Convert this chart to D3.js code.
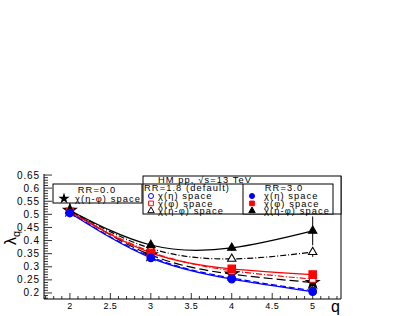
<!DOCTYPE html>
<html>
<head>
<script src="https://cdn.jsdelivr.net/npm/d3@7"></script>
<style>
  html, body { margin: 0; padding: 0; background: #fff; }
  svg { display: block; font-family: "Liberation Sans", Arial, sans-serif; }
</style>
</head>
<body>
<script>

var w = 409, h = 316;

// q values and lambda_q per setting
var qVals = [2, 3, 4, 5];
var rr30Eta    = [0.505, 0.334, 0.253, 0.205];
var rr30Phi    = [0.510, 0.353, 0.292, 0.270];
var rr30EtaPhi = [0.515, 0.383, 0.372, 0.437];
var rr30EtaPhiErr = [0.004, 0.006, 0.012, 0.055];
var rr18Eta    = [0.507, 0.338, 0.257, 0.209];
var rr18Phi    = [0.510, 0.357, 0.285, 0.253];
var rr18EtaPhi = [0.515, 0.370, 0.330, 0.356];
var rr18EtaPhiErr = [0.004, 0.005, 0.008, 0.018];
var rr00EtaPhi = [0.515, 0.345, 0.272, 0.240];
var rr00EtaPhiErr = [0.004, 0.005, 0.010, 0.020];

var xTicks = [2, 2.5, 3, 3.5, 4, 4.5, 5];
var yTicks = [0.2, 0.25, 0.3, 0.35, 0.4, 0.45, 0.5, 0.55, 0.6, 0.65];

var svg = d3.select("body").append("svg").attr("width", w).attr("height", h);

var x = d3.scaleLinear().domain([1.68, 5.35]).range([44, 341]);
var y = d3.scaleLinear().domain([0.177, 0.654]).range([299, 174]);

// frame: left, bottom, right
svg.append("path")
  .attr("d", "M44,174V299H341V176")
  .attr("fill", "none").attr("stroke", "#000").attr("stroke-width", 1);

// x axis ticks (inside)
var xMinor = d3.range(17, 54).map(function(i){ return i / 10; });
svg.append("g").selectAll("line").data(xMinor).enter().append("line")
  .attr("x1", function(d){ return x(d); }).attr("x2", function(d){ return x(d); })
  .attr("y1", 299)
  .attr("y2", function(d){ return Math.abs(d * 2 - Math.round(d * 2)) < 1e-6 ? 293 : 296; })
  .attr("stroke", "#000").attr("stroke-width", 0.8);
svg.append("g").selectAll("text").data(xTicks).enter().append("text")
  .attr("x", function(d){ return x(d); }).attr("y", 309)
  .attr("text-anchor", "middle").attr("font-size", 9).attr("letter-spacing", 0.4)
  .text(function(d){ return d; });

// y axis ticks (inside)
var yMinor = d3.range(18, 66).map(function(i){ return i / 100; });
svg.append("g").selectAll("line").data(yMinor).enter().append("line")
  .attr("x1", 44)
  .attr("x2", function(d){ return Math.abs(d * 20 - Math.round(d * 20)) < 1e-6 ? 52 : 48; })
  .attr("y1", function(d){ return y(d); }).attr("y2", function(d){ return y(d); })
  .attr("stroke", "#000").attr("stroke-width", 0.8);
svg.append("g").selectAll("text").data(yTicks).enter().append("text")
  .attr("x", 40).attr("y", function(d){ return y(d) + 3.5; })
  .attr("text-anchor", "end").attr("font-size", 10).attr("letter-spacing", 0.9)
  .text(function(d){ return d; });

// axis titles
svg.append("text").attr("x", 331).attr("y", 312)
  .attr("font-size", 16).text("q");
svg.append("text")
  .attr("transform", "translate(16,238) rotate(-90)")
  .attr("text-anchor", "middle").attr("font-size", 16)
  .html('λ<tspan font-size="11" dy="4">q</tspan>');

// series definitions
var series = [
  { vals: rr00EtaPhi, err: rr00EtaPhiErr, color: "#000", dash: "9,4", sym: d3.symbolStar, fill: true, size: 50 },
  { vals: rr18Eta, color: "#0000ff", dash: "6,3", sym: d3.symbolCircle, fill: false, size: 36 },
  { vals: rr18Phi, color: "#ff0000", dash: "6,2,1,2", sym: d3.symbolSquare, fill: false, size: 42 },
  { vals: rr18EtaPhi, err: rr18EtaPhiErr, color: "#000", dash: "6,2,1,2", sym: d3.symbolTriangle, fill: false, size: 30 },
  { vals: rr30Phi, color: "#ff0000", dash: null, sym: d3.symbolSquare, fill: true, size: 55 },
  { vals: rr30EtaPhi, err: rr30EtaPhiErr, color: "#000", dash: null, sym: d3.symbolTriangle, fill: true, size: 30 },
  { vals: rr30Eta, color: "#0000ff", dash: null, sym: d3.symbolCircle, fill: true, size: 45 }
];

var line = d3.line()
  .x(function(d){ return x(d[0]); })
  .y(function(d){ return y(d[1]); })
  .curve(d3.curveNatural);

series.forEach(function(s){
  var pts = qVals.map(function(q, i){ return [q, s.vals[i]]; });
  svg.append("path").datum(pts)
    .attr("d", line).attr("fill", "none")
    .attr("stroke", s.color).attr("stroke-width", 1.2)
    .attr("stroke-dasharray", s.dash);
});

series.forEach(function(s){
  var pts = qVals.map(function(q, i){ return [q, s.vals[i], s.err ? s.err[i] : 0]; });
  var g = svg.append("g");
  g.selectAll("line").data(pts.filter(function(d){ return d[2] > 0.006; })).enter().append("line")
    .attr("x1", function(d){ return x(d[0]); }).attr("x2", function(d){ return x(d[0]); })
    .attr("y1", function(d){ return y(d[1] - d[2]); }).attr("y2", function(d){ return y(d[1] + d[2]); })
    .attr("stroke", s.color).attr("stroke-width", 1);
  g.selectAll("path").data(pts).enter().append("path")
    .attr("transform", function(d){ return "translate(" + x(d[0]) + "," + y(d[1]) + ")"; })
    .attr("d", d3.symbol().type(s.sym).size(s.size))
    .attr("fill", s.fill ? s.color : "#fff")
    .attr("stroke", s.color).attr("stroke-width", 1.1);
});

// legends
var leg = svg.append("g").attr("font-size", 9.3).attr("letter-spacing", 1.1);

leg.append("rect").attr("x", 53).attr("y", 184).attr("width", 89).attr("height", 19)
  .attr("fill", "#fff").attr("stroke", "#000");
leg.append("text").attr("x", 97).attr("y", 192.5).attr("text-anchor", "middle").text("RR=0.0");
leg.append("path").attr("transform", "translate(64,198.5)")
  .attr("d", d3.symbol().type(d3.symbolStar).size(40)).attr("fill", "#000");
leg.append("text").attr("x", 75).attr("y", 202).text("χ(η-φ) space");

leg.append("rect").attr("x", 143).attr("y", 176).attr("width", 198).attr("height", 38)
  .attr("fill", "#fff").attr("stroke", "#000");
leg.append("text").attr("x", 205).attr("y", 183.3).attr("text-anchor", "middle").text("HM pp, √s=13 TeV");
leg.append("line").attr("x1", 143).attr("x2", 243).attr("y1", 184).attr("y2", 184).attr("stroke", "#000");
leg.append("rect").attr("x", 243).attr("y", 184).attr("width", 90).attr("height", 30)
  .attr("fill", "#fff").attr("stroke", "#000");

leg.append("text").attr("x", 144).attr("y", 191).text("RR=1.8 (default)");
leg.append("text").attr("x", 284).attr("y", 191).attr("text-anchor", "middle").text("RR=3.0");

var entryLabels = ["χ(η) space", "χ(φ) space", "χ(η-φ) space"];
var entryColors = ["#0000ff", "#ff0000", "#000"];
var entrySyms = [d3.symbolCircle, d3.symbolSquare, d3.symbolTriangle];
var entrySizes = [20, 22, 18];
[[151, 158, false], [252, 264, true]].forEach(function(c){
  entryLabels.forEach(function(lbl, i){
    var yy = 196 + i * 7.4;
    leg.append("path").attr("transform", "translate(" + c[0] + "," + yy + ")")
      .attr("d", d3.symbol().type(entrySyms[i]).size(entrySizes[i]))
      .attr("fill", c[2] ? entryColors[i] : "#fff")
      .attr("stroke", entryColors[i]).attr("stroke-width", 1);
    leg.append("text").attr("x", c[1]).attr("y", yy + 3.2).text(lbl);
  });
});

</script>
</body>
</html>
